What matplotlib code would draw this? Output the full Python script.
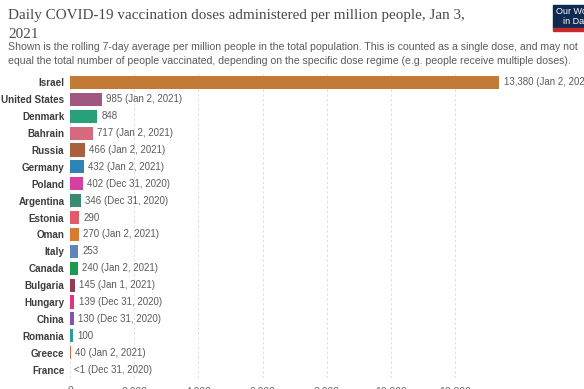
import matplotlib.pyplot as plt
from matplotlib.patches import Rectangle

# data
countries = ['Israel', 'United States', 'Denmark', 'Bahrain', 'Russia', 'Germany',
             'Poland', 'Argentina', 'Estonia', 'Oman', 'Italy', 'Canada',
             'Bulgaria', 'Hungary', 'China', 'Romania', 'Greece', 'France']
doses = [13380, 985, 848, 717, 466, 432, 402, 346, 290, 270, 253, 240,
         145, 139, 130, 100, 40, 0.5]
labels = ['13,380 (Jan 2, 2021)', '985 (Jan 2, 2021)', '848', '717 (Jan 2, 2021)',
          '466 (Jan 2, 2021)', '432 (Jan 2, 2021)', '402 (Dec 31, 2020)',
          '346 (Dec 31, 2020)', '290', '270 (Jan 2, 2021)', '253',
          '240 (Jan 2, 2021)', '145 (Jan 1, 2021)', '139 (Dec 31, 2020)',
          '130 (Dec 31, 2020)', '100', '40 (Jan 2, 2021)', '<1 (Dec 31, 2020)']
colors = ['#C37A34', '#A05880', '#28A07A', '#D66B80', '#A8603E', '#2C85B5',
          '#D63EA4', '#3A8A76', '#E35A6A', '#D97A30', '#6283BC', '#1E9A50',
          '#953B55', '#E03480', '#8254AE', '#2B9E9C', '#D2663E', '#999999']
xticks = [0, 2000, 4000, 6000, 8000, 10000, 12000]

W, H = 584, 389
fig = plt.figure(figsize=(W / 100, H / 100), dpi=100)

# axes run past the right edge, like the cropped screenshot
ax = fig.add_axes([70 / W, 1 - 378 / H, (584 - 70) / W, (378 - 74) / H])
ypos = list(range(len(countries)))
ax.barh(ypos, doses, height=0.77, color=colors, zorder=2)
ax.set_ylim(len(countries) - 0.5, -0.5)
ax.set_xlim(0, (584 - 70) / 0.0321)

for y, v, lab in zip(ypos, doses, labels):
    ax.text(v + 130, y, lab, va='center', ha='left', fontsize=7,
            family='Liberation Sans', color='#5b5b5b', clip_on=False)

ax.set_yticks(ypos)
ax.set_yticklabels(countries, fontsize=7.1, fontweight='bold',
                   family='Liberation Sans', color='#3d3d3d')
ax.set_xticks(xticks)
ax.set_xticklabels(['{:,}'.format(t) for t in xticks], fontsize=7.5,
                   family='Liberation Sans', color='#666666')
ax.tick_params(axis='y', length=0, pad=4)
ax.tick_params(axis='x', length=0, pad=6)
for s in ax.spines.values():
    s.set_visible(False)
ax.grid(axis='x', linestyle=(0, (2.5, 2.5)), color='#dddddd', linewidth=0.7, zorder=0)
ax.set_axisbelow(True)

# title and subtitle
fig.text(8 / W, 1 - 25 / H, 'Daily COVID-19 vaccination doses administered per million people, Jan 3,\n2021',
         ha='left', va='center', fontsize=10.9, family='Liberation Serif',
         color='#4a4a4a', linespacing=1.5)
fig.text(8 / W, 1 - 53.5 / H,
         'Shown is the rolling 7-day average per million people in the total population. This is counted as a single dose, and may not\n'
         'equal the total number of people vaccinated, depending on the specific dose regime (e.g. people receive multiple doses).',
         ha='left', va='center', fontsize=7.6, family='Liberation Sans',
         color='#5b5b5b', linespacing=1.5)

# logo box, cut off at the right edge
fig.patches.append(Rectangle((553 / W, 1 - 28 / H), 40 / W, 23 / H,
                             transform=fig.transFigure, color='#0f2a52', zorder=3))
fig.patches.append(Rectangle((553 / W, 1 - 30.5 / H), 40 / W, 2.5 / H,
                             transform=fig.transFigure, color='#c8282c', zorder=3))
fig.text(577 / W, 1 - 16.5 / H, 'Our World\nin Data', ha='center', va='center',
         fontsize=6.5, family='Liberation Sans', color='white', linespacing=1.0, zorder=4)

fig.savefig('out.png', dpi=100)
